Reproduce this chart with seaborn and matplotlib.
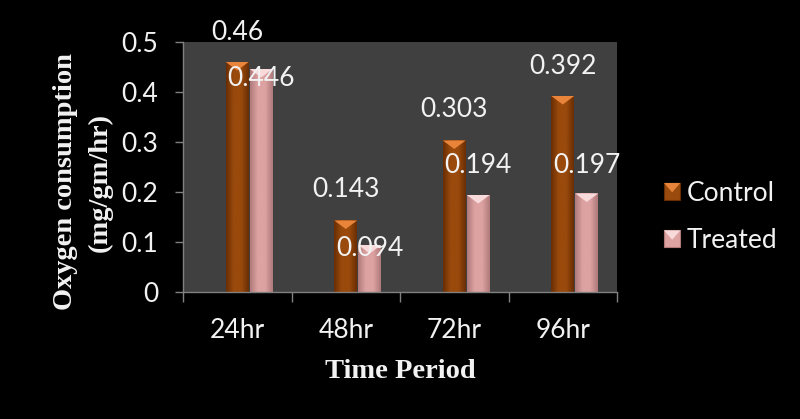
import numpy as np
import pandas as pd
import matplotlib
matplotlib.use("Agg")
import matplotlib.pyplot as plt
import matplotlib.patches as mpatches
from matplotlib.colors import LinearSegmentedColormap
from matplotlib.legend_handler import HandlerBase
import seaborn as sns

# ---- data ----
periods = ["24hr", "48hr", "72hr", "96hr"]
groups = ["Control", "Treated"]
control = [0.46, 0.143, 0.303, 0.392]
treated = [0.446, 0.094, 0.194, 0.197]
y_ticks = [0, 0.1, 0.2, 0.3, 0.4, 0.5]

# vertical offset (pixels) of each value label from its bar top
label_offsets = {
    "Control": [30, 31, 31, 30],
    "Treated": [-9, -4, 30, 28],
}

# ---- styling ----
sns.set_style("dark")
plt.rcParams["font.family"] = ["Lato", "DejaVu Sans"]
TEXT = "#F2F2F2"
AXIS = "#808080"
PLOT_BG = "#404040"
palette = {"Control": "#9A4A0C", "Treated": "#DDA2A2"}
edge_dark = {"Control": "#6A2E04", "Treated": "#B07A7A"}
top_light = {"Control": "#E8853A", "Treated": "#F8DADA"}

df = pd.DataFrame({
    "period": periods * 2,
    "group": [groups[0]] * len(periods) + [groups[1]] * len(periods),
    "value": control + treated,
})

W, H, DPI = 800, 419, 100
fig = plt.figure(figsize=(W / DPI, H / DPI), dpi=DPI, facecolor="black")
ax = fig.add_axes([183 / W, (H - 292) / H, 434 / W, 250 / H])
ax.set_facecolor(PLOT_BG)

group_width = 0.442
sns.barplot(data=df, x="period", y="value", hue="group", order=periods,
            hue_order=groups, palette=palette, width=group_width, gap=0.05,
            linewidth=0, legend=False, ax=ax)

# the control bar sits on the category centre, the treated bar beside it
shift = group_width / 4
for p in ax.patches:
    p.set_x(p.get_x() + shift)

px_to_pt = 72 / DPI
for name, cont in zip(groups, ax.containers):
    cmap = LinearSegmentedColormap.from_list(
        name, [edge_dark[name], palette[name], palette[name], edge_dark[name]])
    grad = np.linspace(0, 1, 64)[None, :]
    for bar, off in zip(cont, label_offsets[name]):
        x0, w, h = bar.get_x(), bar.get_width(), bar.get_height()
        # rounded shading across the bar
        ax.imshow(grad, cmap=cmap, extent=[x0, x0 + w, 0, h], aspect="auto",
                  zorder=2, interpolation="bicubic")
        # bevelled top
        d = 0.017
        ax.add_patch(mpatches.Polygon(
            [(x0, h), (x0 + w, h), (x0 + w / 2, h - d)],
            closed=True, facecolor=top_light[name], edgecolor="none", zorder=3))
        ax.annotate(f"{h:g}", (x0 + w / 2, h), xytext=(0, off * px_to_pt),
                    textcoords="offset points", ha="center", va="center",
                    color=TEXT, fontsize=19, zorder=6, annotation_clip=False)

ax.set_xlim(-0.5, len(periods) - 0.5)
ax.set_ylim(0, 0.5)

# axes
for side in ("top", "right"):
    ax.spines[side].set_visible(False)
for side in ("left", "bottom"):
    ax.spines[side].set_color(AXIS)
    ax.spines[side].set_linewidth(1.0)
ax.grid(False)

ax.set_yticks(y_ticks)
ax.set_yticklabels([f"{v:g}" for v in y_ticks])
ax.tick_params(axis="y", colors=AXIS, labelcolor=TEXT, labelsize=19,
               length=6, width=1, pad=12, left=True)
ax.set_xticks(range(len(periods)))
ax.set_xticklabels(periods)
ax.set_xticks(np.arange(-0.5, len(periods)), minor=True)
ax.tick_params(axis="x", which="major", length=0, labelcolor=TEXT,
               labelsize=19, pad=19)
ax.tick_params(axis="x", which="minor", length=7, width=1, colors=AXIS,
               bottom=True)

serif = ["Liberation Serif", "DejaVu Serif"]
ax.set_xlabel("Time Period", family=serif, fontweight="bold", fontsize=20.5,
              color=TEXT)
ax.xaxis.set_label_coords(0.5, -0.27)
ax.set_ylabel("Oxygen consumption\n(mg/gm/hr)", family=serif,
              fontweight="bold", fontsize=20.5, color=TEXT, linespacing=1.5)
ax.yaxis.set_label_coords(-0.163, 0.44)


class BevelSquare(HandlerBase):
    def create_artists(self, legend, orig_handle, xdescent, ydescent,
                       width, height, fontsize, trans):
        name = orig_handle.get_label()
        x0, y0 = -xdescent, -ydescent
        sq = mpatches.Rectangle((x0, y0), width, height,
                                facecolor=palette[name],
                                edgecolor=edge_dark[name], lw=0.8,
                                transform=trans)
        tri = mpatches.Polygon(
            [(x0, y0 + height), (x0 + width, y0 + height),
             (x0 + width / 2, y0 + height * 0.45)],
            closed=True, facecolor=top_light[name], edgecolor="none",
            transform=trans)
        return [sq, tri]


handles = [mpatches.Patch(label=g) for g in groups]
fig.legend(handles=handles, labels=groups, loc="center left",
           bbox_to_anchor=(664 / W, (H - 217) / H), frameon=False,
           fontsize=19, labelcolor=TEXT, handlelength=0.62,
           handleheight=0.62, handletextpad=0.25, labelspacing=0.85,
           borderpad=0, borderaxespad=0,
           handler_map={mpatches.Patch: BevelSquare()})

fig.savefig("out.png", dpi=DPI, facecolor=fig.get_facecolor())
